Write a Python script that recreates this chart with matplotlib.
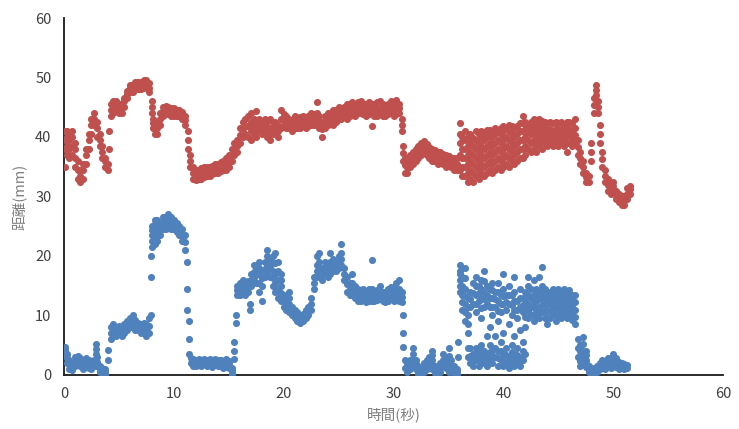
import matplotlib
matplotlib.use("Agg")
import matplotlib.pyplot as plt

plt.rcParams['font.family'] = ['Noto Sans CJK JP', 'DejaVu Sans']

# red series: sample times (s) and the distances (mm) read at each time
red_t = [0.1, 0.25, 0.5, 0.75, 1.0, 1.25, 1.5, 1.75, 2.0, 2.25, 2.5, 2.75, 3.0, 3.25, 3.5, 3.75,
         4.0, 4.1, 4.25, 4.5, 4.75, 5.0, 5.25, 5.5, 5.75, 6.0, 6.25, 6.5, 6.75, 7.0, 7.25, 7.5,
         7.75, 8.0, 8.1, 8.25, 8.5, 8.75, 9.0, 9.25, 9.5, 9.75, 10.0, 10.25, 10.5, 10.75, 11.0,
         11.25, 11.5, 11.75, 12.0, 12.25, 12.5, 12.75, 13.0, 13.25, 13.5, 13.75, 14.0, 14.25,
         14.5, 14.75, 15.0, 15.25, 15.5, 15.75, 16.0, 16.25, 16.5, 16.75, 17.0, 17.25, 17.5,
         17.75, 18.0, 18.25, 18.5, 18.75, 19.0, 19.25, 19.5, 19.75, 20.0, 20.25, 20.5, 20.75,
         21.0, 21.25, 21.5, 21.75, 22.0, 22.25, 22.5, 22.75, 23.0, 23.25, 23.5, 23.75, 24.0,
         24.25, 24.5, 24.75, 25.0, 25.25, 25.5, 25.75, 26.0, 26.25, 26.5, 26.75, 27.0, 27.25,
         27.5, 27.75, 28.0, 28.25, 28.5, 28.75, 29.0, 29.25, 29.5, 29.75, 30.0, 30.25, 30.5,
         30.75, 30.9, 31.0, 31.25, 31.5, 31.75, 32.0, 32.25, 32.5, 32.75, 33.0, 33.25, 33.5,
         33.75, 34.0, 34.25, 34.5, 34.75, 35.0, 35.25, 35.5, 35.75, 36.0, 36.25, 36.5, 36.75,
         37.0, 37.25, 37.5, 37.75, 38.0, 38.25, 38.5, 38.75, 39.0, 39.25, 39.5, 39.75, 40.0,
         40.25, 40.5, 40.75, 41.0, 41.25, 41.5, 41.75, 42.0, 42.25, 42.5, 42.75, 43.0, 43.25,
         43.5, 43.75, 44.0, 44.25, 44.5, 44.75, 45.0, 45.25, 45.5, 45.75, 46.0, 46.25, 46.5,
         46.75, 47.0, 47.25, 47.5, 47.75, 48.0, 48.25, 48.4, 48.6, 48.75, 49.0, 49.25, 49.5,
         49.75, 50.0, 50.25, 50.5, 50.75, 51.0, 51.25, 51.5]
red_y = [[35, 38, 39.5, 41], [37, 38.5, 40, 41], [36.5, 38, 39.5, 40.5], [37, 38.5, 40, 41],
         [35, 36.5, 38, 39], [33, 34.5, 36], [32.5, 33.5, 34.5], [33, 34.5, 35.5], [35.5, 37, 38],
         [38, 39.5, 40.5], [40.5, 42, 43], [42, 43, 44], [40, 41.5, 42.5], [38.5, 39.5, 40.5],
         [36.5, 37.5, 38.5], [35, 36, 36.5], [34.5, 35.5], [38, 41], [43.5, 44.5, 45.5],
         [44, 45, 46], [44.5, 45.5, 46], [44, 45, 45.5], [44, 45, 45.5], [45, 46, 46.5],
         [46.5, 47.2, 47.8], [47.5, 48.2, 48.7], [47.5, 48.2, 48.8], [48, 48.6, 49.2],
         [48, 48.6, 49.2], [48, 48.7, 49.3], [48.3, 48.9, 49.5], [48.5, 49.1, 49.6],
         [47.5, 48.3, 49], [44, 45, 46], [41.5, 42.3, 43], [40.5, 41.3, 42], [40.5, 41.5, 42.5],
         [42, 43, 44], [43.5, 44.3, 45], [44, 44.6, 45.2], [43.8, 44.4, 45], [43.5, 44.2, 44.8],
         [43.5, 44.2, 44.8], [43.5, 44, 44.5], [43.5, 44, 44.5], [43, 43.6, 44.2],
         [42, 42.8, 43.5], [38, 39.5, 41], [35, 36, 37], [33, 34, 35], [32.8, 33.6, 34.5],
         [33, 33.8, 34.5], [33, 33.9, 34.8], [33.2, 34.1, 35], [33.5, 34.2, 35], [33.5, 34.3, 35],
         [33.8, 34.5, 35.2], [34, 34.8, 35.5], [34, 34.8, 35.5], [34.2, 35, 35.8],
         [34.5, 35.3, 36], [34.5, 35.5, 36.5], [35, 36, 37], [36, 37, 38], [37, 38, 39],
         [37.5, 38.5, 39.5], [39, 40.3, 41.5], [40, 41.3, 42.5], [40.5, 41.8, 43],
         [40, 41.8, 43.5], [39.5, 41, 42.5, 44], [40.5, 41.8, 43], [40, 41.2, 42.5, 44.3],
         [41, 42, 43], [40.5, 41.5, 42.5], [41, 42, 43], [40, 41.2, 42.5], [39.5, 40.5, 41.5, 43],
         [40.5, 41.5, 42.5], [41, 41.8, 42.5], [40, 41, 42], [41.5, 43, 44.5], [42, 42.9, 43.8],
         [41.5, 42.5, 43.5], [41.5, 42.3, 43], [41, 41.9, 42.8], [41.5, 42.5, 43.5],
         [41.5, 42.3, 43], [41.5, 42.4, 43.3], [41.8, 42.7, 43.5], [41.5, 42.3, 43],
         [41.8, 42.7, 43.5], [42, 43, 44], [42, 42.9, 43.8], [42.5, 43.3, 44, 45.8],
         [41.5, 42.5, 43.5], [40, 41.3, 42.5], [41.5, 42.5, 43.5], [42, 43, 44], [42.5, 43.3, 44],
         [42, 43.3, 44.5], [42.5, 43.5, 44.5], [43, 44, 45], [43, 43.8, 44.5], [43.5, 44.3, 45],
         [43, 44.3, 45.5], [43.5, 44.5, 45.5], [44, 44.9, 45.8], [43.5, 44.5, 45.5],
         [44, 44.9, 45.8], [44, 45, 46], [43.8, 44.7, 45.5], [43.5, 44.5, 45.5],
         [43.8, 44.8, 45.8], [41.8, 44, 44.8, 45.5], [43.5, 44.5, 45.5], [43.5, 44.7, 45.8],
         [43.8, 44.9, 46], [43.5, 44.5, 45.5], [43.5, 44.4, 45.2], [43.8, 44.7, 45.5],
         [44, 45, 46], [43.5, 44.5, 45.5], [43.8, 45, 46.2], [44, 44.8, 45.5], [41, 42, 43],
         [36, 37.3, 38.5], [34, 35.3, 36.5], [34, 35, 36], [35, 36, 37], [35.5, 36.5, 37.5],
         [36, 37, 38], [36.5, 37.5, 38.5], [37, 38, 39], [37.5, 38.4, 39.3], [37, 37.9, 38.8],
         [36.5, 37.4, 38.3], [36, 37, 38], [36, 36.9, 37.8], [35.5, 36.5, 37.5],
         [35.8, 36.7, 37.5], [35.5, 36.4, 37.2], [35, 36, 37], [35.2, 36, 36.8], [35, 35.8, 36.5],
         [34.5, 35.5, 36.5], [34.5, 35.5, 36.5], [34.5, 37, 39, 40.5, 42.3],
         [33.5, 35, 36.5, 38, 40], [33.5, 35, 36.5, 38, 39.5, 41], [32.5, 34, 35.5, 37, 38.5, 40],
         [33, 34.5, 36, 37.5, 39, 40.5], [32.5, 34, 35.5, 37, 38.5, 39.8],
         [33.5, 35, 36.5, 38, 39.5, 41], [33, 34.5, 36, 37.5, 39, 40.5],
         [34, 35.5, 37, 38.5, 40, 41], [33.5, 35, 36.5, 38, 39.5, 40.8],
         [34, 35.5, 37, 38.5, 40, 41.2], [34.5, 36, 37.5, 39, 40.5, 41.2],
         [34, 35.5, 37, 38.5, 40, 41], [34.5, 36, 37.5, 39, 40.5, 41.5], [35, 36.5, 38, 39.5, 41],
         [34.5, 36, 37.5, 39, 40.5, 41.5], [35, 36.5, 38, 39.5, 41, 41.8],
         [35.5, 37, 38.5, 40, 41.3], [35, 36.5, 38, 39.5, 41, 42], [36, 37.5, 39, 40.5, 41.8],
         [35.5, 37, 38.5, 40, 41.5], [36, 37.5, 39, 40.5, 41.8], [36.5, 38, 39.5, 41, 42.3],
         [36.5, 38, 39.5, 41, 42.3, 43.5], [37, 38.5, 40, 41.3, 42.5], [38, 39.5, 40.8, 42.2],
         [37.5, 39, 40.5, 41.5, 42.5], [38, 39.5, 40.8, 42, 43], [37.5, 39, 40.3, 41.5, 42.8],
         [38.5, 39.8, 41, 42.2, 43], [38, 39.3, 40.5, 41.7, 42.7], [39, 40.2, 41.3, 42.5],
         [38.5, 39.8, 41, 42.3], [39, 40.2, 41.3, 42.5], [38.5, 39.8, 41, 42.3],
         [39, 40.2, 41.3, 42.5], [38.5, 39.8, 41, 42.3], [39, 40.2, 41.3, 42.5],
         [38.5, 39.8, 41, 42.2], [37.5, 39, 40.3, 41.5, 42.5], [39, 40.2, 41.3, 42.5],
         [38.5, 39.8, 41, 42.3], [39, 40.3, 41.5, 43], [37, 38.3, 39.5], [35.5, 36.5, 37.5],
         [34, 35, 36], [32.5, 33.3, 34], [32.5, 33.5], [36, 37.5, 39], [44, 45.3, 46.5],
         [47, 47.9, 48.7], [44, 45, 46], [39, 40.5, 42], [35, 36.3, 37.5], [32.5, 33.5, 34.5],
         [31, 32, 33], [30.5, 31.3, 32], [31, 31.8, 32.5], [29.5, 30.3, 31], [29, 29.8, 30.5],
         [28.5, 29.3, 30], [28.5, 29.3, 30], [29.5, 30.5, 31.5], [30.5, 31.2, 31.8]]

# blue series
blue_t = [0.1, 0.25, 0.5, 0.75, 1.0, 1.25, 1.5, 1.75, 2.0, 2.25, 2.5, 2.75, 2.9, 3.0, 3.25,
          3.5, 3.75, 4.0, 4.25, 4.5, 4.75, 5.0, 5.25, 5.5, 5.75, 6.0, 6.25, 6.5, 6.75, 7.0,
          7.25, 7.5, 7.75, 7.9, 8.0, 8.25, 8.5, 8.75, 9.0, 9.25, 9.5, 9.75, 10.0, 10.25, 10.5,
          10.75, 11.0, 11.2, 11.4, 11.6, 11.75, 12.0, 12.25, 12.5, 12.75, 13.0, 13.25, 13.5,
          13.75, 14.0, 14.25, 14.5, 14.75, 15.0, 15.25, 15.5, 15.7, 15.75, 16.0, 16.25, 16.5,
          16.75, 16.9, 17.0, 17.25, 17.5, 17.75, 18.0, 18.25, 18.5, 18.75, 19.0, 19.25, 19.5,
          19.75, 20.0, 20.25, 20.5, 20.75, 21.0, 21.25, 21.5, 21.75, 22.0, 22.25, 22.5, 22.75,
          23.0, 23.25, 23.5, 23.75, 24.0, 24.25, 24.5, 24.75, 25.0, 25.25, 25.5, 25.75, 26.0,
          26.25, 26.5, 26.75, 27.0, 27.25, 27.5, 27.75, 28.0, 28.25, 28.5, 28.75, 29.0, 29.25,
          29.5, 29.75, 30.0, 30.25, 30.5, 30.75, 30.9, 31.0, 31.25, 31.5, 31.75, 32.0, 32.25,
          32.5, 32.75, 33.0, 33.25, 33.5, 33.75, 34.0, 34.25, 34.5, 34.75, 35.0, 35.25, 35.5,
          35.75, 35.9, 36.0, 36.25, 36.5, 36.75, 37.0, 37.25, 37.5, 37.75, 38.0, 38.25, 38.5,
          38.75, 39.0, 39.25, 39.5, 39.75, 40.0, 40.25, 40.5, 40.75, 41.0, 41.25, 41.5, 41.75,
          42.0, 42.25, 42.5, 42.75, 43.0, 43.25, 43.5, 43.75, 44.0, 44.25, 44.5, 44.75, 45.0,
          45.25, 45.5, 45.75, 46.0, 46.25, 46.5, 46.75, 47.0, 47.25, 47.5, 47.75, 48.0, 48.25,
          48.5, 48.75, 49.0, 49.25, 49.5, 49.75, 50.0, 50.25, 50.5, 50.75, 51.0, 51.25]
blue_y = [[3.5, 4.2, 4.7], [2, 2.8, 3.5], [1, 1.8, 2.5], [0.8, 1.4, 2], [1.5, 2.2, 3],
          [2, 2.6, 3.2], [1.5, 2.2, 2.8], [1, 1.6, 2.2], [1.5, 2.2, 2.8], [1.2, 1.9, 2.5],
          [1, 1.7, 2.3], [1.5, 2, 2.5], [3.5, 4.3, 5.2], [1.5, 2.2, 3], [0.5, 1, 1.5],
          [0.3, 0.8, 1.2], [0, 0.5, 1], [2.5, 4.2], [6, 7, 8], [7, 7.8, 8.5], [6.5, 7.3, 8],
          [7, 7.6, 8.3], [6.5, 7.2, 7.8], [7, 7.8, 8.5], [7.5, 8.2, 9], [8, 8.8, 9.5], [8, 9, 10],
          [7.5, 8.3, 9.2], [7.5, 8.2, 8.8], [7, 7.8, 8.5], [7.5, 8.2, 8.8], [6.5, 7.5, 8.5],
          [7, 8.2, 9.5], [10, 16.5, 20], [21.5, 22.5, 23.5, 24.3, 25], [22, 23.3, 24.5, 25.3, 26],
          [22.5, 23.5, 24.5, 25.3, 26], [23.5, 24.5, 25.5], [24.5, 25.5, 26.5], [24.5, 25.5, 26.5],
          [25, 26, 27], [24.5, 25.5, 26.5], [24.5, 25.3, 26], [24, 24.8, 25.5], [23.5, 24.3, 25],
          [22.5, 23.5, 24.5], [21, 22.3, 23.5], [19, 14.5, 11], [3.5, 6, 9], [2, 2.8],
          [1.5, 2.1, 2.6], [1.5, 2, 2.5], [1.6, 2.1, 2.6], [1.5, 2, 2.5], [1.8, 2.3, 2.7],
          [1.5, 2, 2.5], [1.6, 2.1, 2.6], [1.4, 1.9, 2.4], [1.6, 2.1, 2.6], [1.5, 2, 2.5],
          [1.5, 2, 2.5], [1.2, 1.8, 2.3], [1.4, 2, 2.6], [1.2, 1.8, 2.4], [0.2, 0.7, 1.2],
          [2.7, 4, 5.5], [8.7, 10], [13.5, 14.3, 15], [13.5, 14.5, 15.5], [14, 15, 16],
          [13.5, 14.5, 15.5], [14, 14.9, 15.8], [11, 12], [15, 16, 17], [16, 17.3, 18.5],
          [15.5, 16.8, 18], [14, 15.5, 17, 18, 19], [12.5, 15, 16.3, 17.5], [16.5, 17.8, 19],
          [17, 18.5, 20, 21], [16.5, 18, 19.5], [15, 16.3, 17.5, 18.8, 20],
          [14, 15.5, 17, 18.8, 20.5], [13, 14.5, 16, 17.5, 19], [12.5, 13.8, 15, 16, 17],
          [11.5, 12.5, 13.5], [11, 11.8, 12.5], [10.5, 11.3, 12, 13, 14], [10, 10.8, 11.5],
          [9.5, 10.3, 11], [9, 9.8, 10.5], [8.8, 9.4, 10], [9, 9.6, 10.2], [9.5, 10.3, 11],
          [10, 10.8, 11.5], [11, 12, 13], [14.5, 15.5, 16.5], [16.5, 17.5, 18.5, 20],
          [17, 18, 19, 20.5], [16, 17, 18], [17, 18, 19], [16.5, 17.5, 18.5], [17, 18, 19, 20.5],
          [17.5, 18.5, 19.5], [17.5, 18.3, 19], [18, 19, 20], [18.5, 19.5, 20.5, 22], [16, 17, 18],
          [14, 15.3, 16.5], [13.5, 14.5, 15.5], [13.5, 14.5, 15.5, 17], [13, 14, 15],
          [12.5, 13.5, 14.5], [12.5, 13.3, 14], [12.8, 13.7, 14.5], [12.2, 13.1, 14],
          [12.5, 13.5, 14.5], [12.5, 13.5, 14.5, 19.3], [12.5, 13.3, 14], [12.6, 13.4, 14.2],
          [13, 14, 15], [12.5, 13.3, 14], [12.2, 13.1, 14], [12.5, 13.5, 14.5], [12.8, 13.8, 14.8],
          [12.5, 13.5, 14.5], [13, 14.3, 15.5], [12.5, 13.5, 14.5, 16], [12.2, 13.1, 14],
          [10, 7, 4.7], [2.5, 1.2], [0.5, 1.2, 2], [1, 1.8, 2.5], [1.5, 2.5, 3.5, 4.5],
          [1, 1.8, 2.5], [0.2, 0.8, 1.5], [0, 0.6, 1.2], [0.5, 1.2, 2], [1, 1.8, 2.5],
          [1.5, 2.2, 3], [1, 1.8, 2.5, 3.3, 4], [0.3, 0.9, 1.5], [0, 0.5, 1], [0.5, 1.2, 2],
          [1.5, 2.5, 3.5], [1.2, 2, 2.8], [0.5, 1.3, 2, 3.2, 4.5], [0.8, 1.6, 2.5],
          [0.3, 0.9, 1.5], [0.2, 0.6, 1], [3, 5.5], [14, 15, 16, 17, 17.5, 18.5],
          [11, 12.3, 13.5, 15, 16.5], [9, 10.5, 12, 13.3, 14.5, 16.3, 18],
          [3, 4.5, 7, 8.5, 10, 11.5, 13], [2, 3.2, 4.5, 11.5, 12.8, 14],
          [1.5, 2.5, 3.5, 12, 13.8, 15.5], [2.5, 3.5, 4.5, 10.5, 12, 13.5, 15, 16.5],
          [1.5, 2.5, 3.5, 12.5, 13.8, 15], [3, 4, 5, 9.5, 11.3, 13, 14.5, 16],
          [2, 3, 4, 11.5, 12.8, 14, 15.8, 17.5], [1.5, 2.5, 3.5, 6.5, 12, 13.5, 15],
          [2.5, 3.8, 5, 8, 11.5, 13, 14.5], [2, 3, 4, 10, 11.5, 13, 14.3, 15.5],
          [3, 4.5, 6.5, 11.5, 12.8, 14], [1.5, 2.8, 4, 9, 10.8, 12.5, 14, 15.5],
          [2.5, 4, 5.5, 10.5, 12, 13.5], [1.5, 2.5, 3.5, 7, 12, 13.3, 14.5, 17],
          [2, 3.3, 4.5, 11, 12.3, 13.5], [1.2, 2.1, 3, 8.5, 12, 13.5, 15],
          [2.5, 3.8, 5, 10, 11.8, 13.5], [1.5, 2.5, 3.5, 6.5, 11, 12.5, 14, 16.5],
          [2, 3.3, 4.5, 9.5, 11, 12.5], [1.5, 2.3, 3, 7.5, 11.5, 13, 14.5],
          [2.5, 4, 5.5, 10.5, 11.8, 13], [3.5, 8, 9.8, 11.5, 12.8, 14],
          [9.5, 10.8, 12, 13.5, 15, 16.5], [10, 11.5, 13, 14.5], [9, 10.3, 11.5, 12.5, 13.5, 16],
          [10, 11.3, 12.5, 13.5, 14.5], [9.5, 10.5, 11.5, 12.8, 14, 16.5],
          [10.5, 11.8, 13, 14, 15, 18.2], [9.5, 10.8, 12, 13.3, 14.5], [8.5, 9.8, 11, 12.3, 13.5],
          [9.5, 10.8, 12, 13, 14], [10, 11.3, 12.5, 13.5, 14.5], [9, 10.3, 11.5, 12.5, 13.5],
          [10, 11, 12, 13.3, 14.5], [9.5, 10.8, 12, 13, 14], [10, 11.3, 12.5, 13.5, 14.5],
          [9.5, 10.5, 11.5, 12.5, 13.5], [10, 11, 12, 13.2, 14.3], [9.2, 10.3, 11.5, 12.5, 13.5],
          [8.5, 9.8, 11, 12.3, 13.5], [3, 4.5, 6], [1.5, 2.3, 3, 4, 5], [2, 3, 4, 5.2, 6.4],
          [1.3, 2, 2.5, 3.3, 4], [0.5, 1, 1.5], [0, 0.5, 1], [0.3, 0.8, 1.2], [0.5, 1, 1.5],
          [1, 1.5, 2], [1.2, 1.9, 2.5], [1, 1.6, 2.2], [1.5, 2.2, 2.8], [1.2, 1.9, 2.5],
          [1.5, 2.5, 3.5], [1.3, 2, 2.8], [1, 1.6, 2.2], [1.2, 1.6, 2], [1, 1.4, 1.8], [1.2, 1.6]]

x_ticks = [0, 10, 20, 30, 40, 50, 60]
y_ticks = [0, 10, 20, 30, 40, 50, 60]


def flatten(ts, rows):
    xs, ys = [], []
    for t, vals in zip(ts, rows):
        for v in vals:
            xs.append(t)
            ys.append(v)
    return xs, ys


fig = plt.figure(figsize=(7.39, 4.29), dpi=100)
ax = fig.add_axes([0.0866, 0.126, 0.892, 0.832])

rx, ry = flatten(red_t, red_y)
bx, by = flatten(blue_t, blue_y)
ax.scatter(rx, ry, s=26, color="#C0504D", linewidths=0, zorder=3)
ax.scatter(bx, by, s=26, color="#4F81BD", linewidths=0, zorder=3)

ax.set_xlim(0, 60)
ax.set_ylim(0, 60)
ax.set_xticks(x_ticks)
ax.set_yticks(y_ticks)
ax.tick_params(length=0, labelsize=10.5, labelcolor="#404040")
ax.tick_params(axis="x", pad=9)
ax.tick_params(axis="y", pad=9)
for side in ["top", "right"]:
    ax.spines[side].set_visible(False)
for side in ["left", "bottom"]:
    ax.spines[side].set_color("#1a1a1a")
    ax.spines[side].set_linewidth(1.3)

ax.set_xlabel("時間(秒)", fontsize=10.5, color="#7f7f7f", labelpad=4)
ax.set_ylabel("距離(mm)", fontsize=10.5, color="#7f7f7f", labelpad=6)

fig.savefig("out.png", dpi=100)
